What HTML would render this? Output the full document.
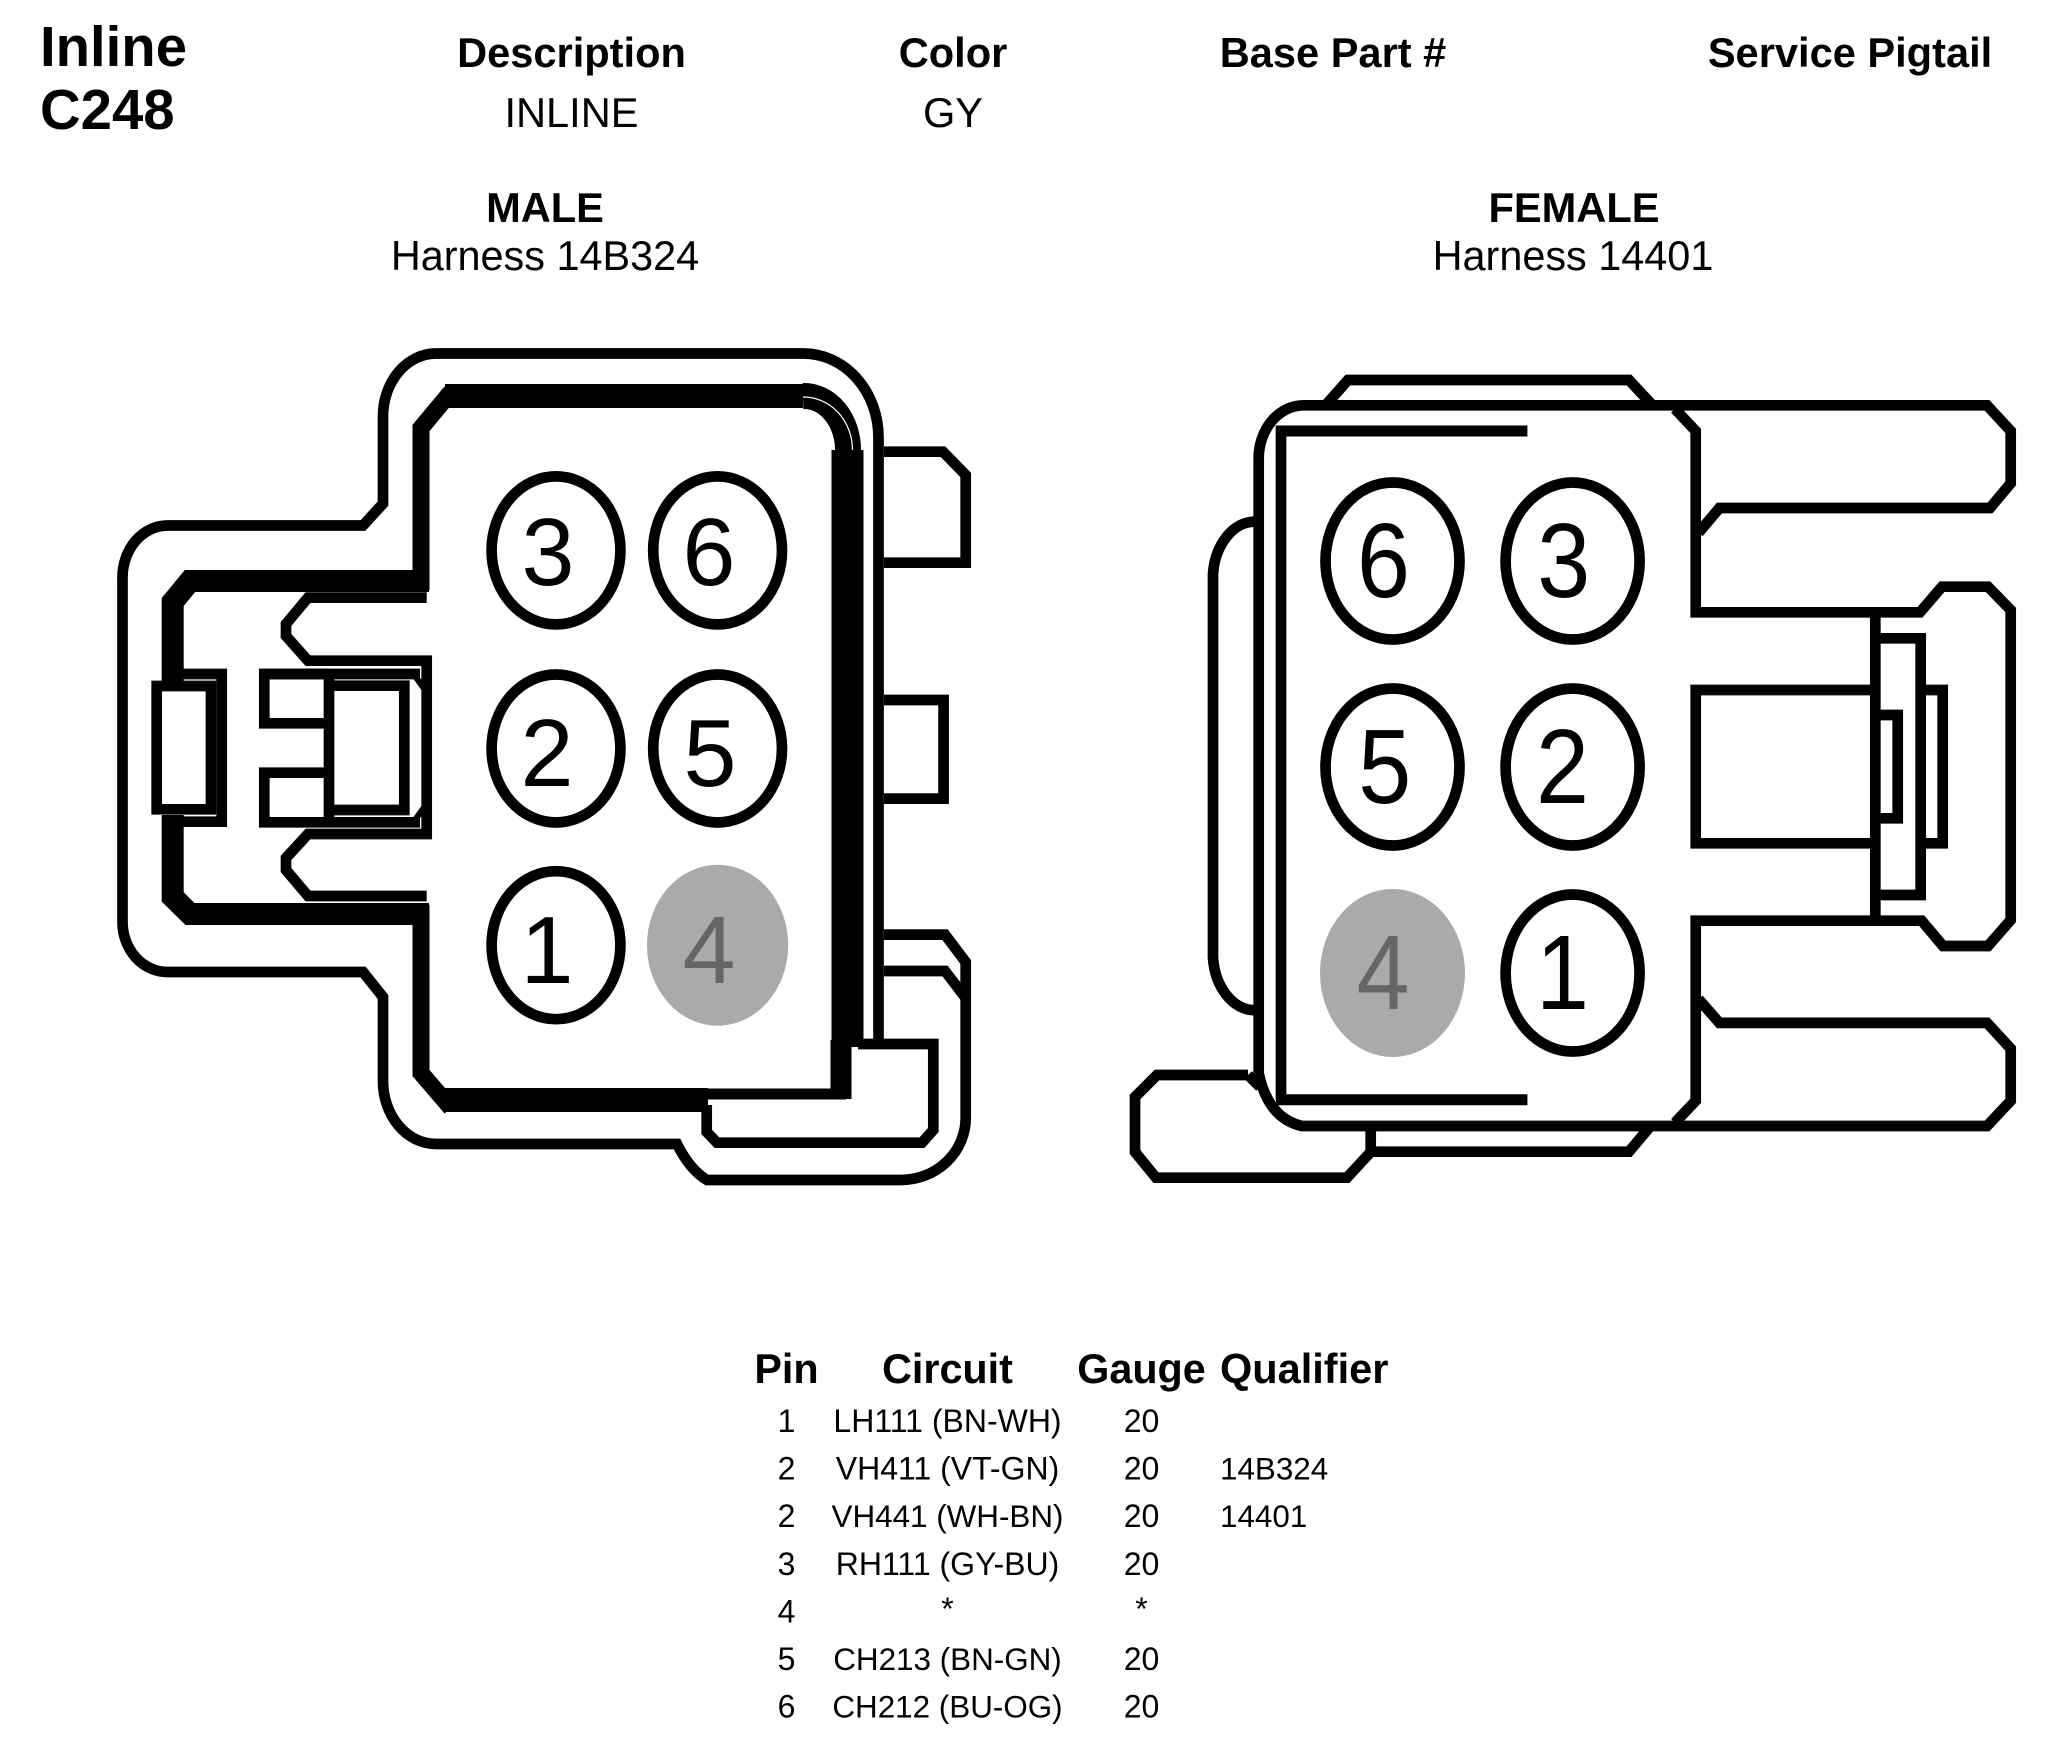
<!DOCTYPE html>
<html><head><meta charset="utf-8"><style>
html,body{margin:0;padding:0;background:#fff}
svg{display:block}
text{font-family:"Liberation Sans",Arial,sans-serif;fill:#000}
.b{font-weight:bold}
.h{font-size:41.6px;font-weight:bold;text-anchor:middle}
.r{font-size:41.6px;text-anchor:middle}
.t{font-size:32px;text-anchor:middle}
.q{font-size:31.4px}
.s path,.s ellipse{fill:none;stroke:#000;stroke-width:10.7;stroke-linejoin:miter}
.d{text-anchor:middle}
</style></head><body>
<svg xmlns="http://www.w3.org/2000/svg" width="2068" height="1756" viewBox="0 0 2068 1756">
<rect width="2068" height="1756" fill="#fff"/>
<text x="40" y="66" class="b" font-size="56.3">Inline</text>
<text x="40" y="129" class="b" font-size="56.3">C248</text>
<text x="571.5" y="67" class="h">Description</text>
<text x="953" y="67" class="h">Color</text>
<text x="1333" y="67" class="h">Base Part #</text>
<text x="1850" y="67" class="h">Service Pigtail</text>
<text x="571.5" y="127" class="r">INLINE</text>
<text x="953" y="127" class="r">GY</text>
<text x="545" y="222" class="h">MALE</text>
<text x="545" y="270" class="r" style="font-size:41.4px">Harness 14B324</text>
<text x="1574" y="222" class="h">FEMALE</text>
<text x="1573" y="270" class="r" style="font-size:41.4px">Harness 14401</text>

<g class="s">
<!-- MALE connector -->
<path d="M884 934.6H945L965.7 962V1118A65 62 0 0 1 900.7 1180H707Q690 1170 677 1144H436A53 63 0 0 1 383 1081V997L363 972H167A45 50 0 0 1 122.5 922.6V578A45 52 0 0 1 167 525.5H363L383 503.6V416.7A53 63 0 0 1 436 353.5H803A75 84 0 0 1 878.5 438V1040"/>
<path d="M884 451.7H943L965.7 475V562.7H884"/>
<path d="M884 700H943.6V798.6H884"/>
<path d="M884 971H945L965 997"/>
<path d="M858 1044H933.3V1130L922 1142.7H717L706.7 1132V1105"/>
<path d="M445 396H803" style="stroke-width:24"/>
<path d="M803 396A44 54 0 0 1 848 450" style="stroke-width:26"/>
<path d="M803 397A49 53 0 0 1 852.5 450" style="stroke:#fff;stroke-width:1.2"/>
<path d="M847.5 450V1047" style="stroke-width:32"/>
<path d="M841 1040V1099" style="stroke-width:21"/>
<path d="M445 1100H708" style="stroke-width:24"/>
<path d="M700 1094H846" style="stroke-width:11"/>
<path d="M451 392L421 428V590" style="stroke-width:17"/>
<path d="M421 905V1073L451 1108" style="stroke-width:17"/>
<path d="M429 581H190L172.7 602V681" style="stroke-width:22"/>
<path d="M172.7 815V897L190 914H429" style="stroke-width:22"/>
<path d="M156.7 686H211V809.3H156.7Z"/>
<path d="M178 674H221.7V821.7H178"/>
<path d="M426.7 597.6H308L286 624V636L308 660.7H426.7V834H308L286 858V870L308 896H426.7"/>
<path d="M329 674H264.3V723.3H329"/>
<path d="M329 772.7H264.3V822.3H420"/>
<path d="M264.3 674H420"/>
<path d="M329 670V826"/>
<path d="M329 685.7H404.3V810H329"/>
<path d="M415 676L425 690M415 820L425 806" style="stroke-width:6"/>
<ellipse cx="556" cy="550.4" rx="64.4" ry="74"/>
<ellipse cx="717.6" cy="550.4" rx="64.4" ry="74"/>
<ellipse cx="556" cy="748.5" rx="64.4" ry="74"/>
<ellipse cx="717.6" cy="748.5" rx="64.4" ry="74"/>
<ellipse cx="556" cy="945.2" rx="64.4" ry="74"/>
<ellipse cx="717.6" cy="945.2" rx="70.6" ry="80.5" style="fill:#aaa;stroke:none"/>

<!-- FEMALE connector -->
<path d="M1698.6 532.7L1719.4 508H1990L2010.7 483.3V431L1987 405.3H1303.3A45 53 0 0 0 1258.7 458.6V1073.3Q1268 1118 1301.7 1126H1987L2010.7 1100.8V1048.6L1987 1022.9H1719.4L1698.6 999.2"/>
<path d="M1675 409L1695.7 431V612.3H1920L1942 586.7H1988L2010.7 610V920L1988 946H1943L1921.7 920.7H1695.7V1100.8L1675 1122.7"/>
<path d="M1281 425.6V1100"/>
<path d="M1276 431H1527.4M1276 1099.7H1527.4" style="stroke-width:11"/>
<path d="M1327 403.7L1348 380H1629L1651 403.7"/>
<path d="M1370.7 1151.7H1629L1651 1125.5"/>
<path d="M1254.5 521.7A42 58 0 0 0 1213 573.8V958A42 58 0 0 0 1254.5 1010.2"/>
<path d="M1248 1075H1157L1135 1097V1152L1156 1177.7H1347L1370.7 1152V1126"/>
<path d="M1248 1075L1260 1087"/>
<path d="M1875.3 690H1695.7V843.3H1875.3"/>
<path d="M1875.3 612V920.7"/>
<path d="M1880 638.3H1920.7V895H1880"/>
<path d="M1880 715H1897.7V818.3H1880"/>
<path d="M1925 690H1942.7V843.3H1925"/>
<ellipse cx="1392.5" cy="561" rx="67" ry="78.5"/>
<ellipse cx="1572.6" cy="561" rx="67" ry="78.5"/>
<ellipse cx="1392.5" cy="767" rx="67" ry="78.5"/>
<ellipse cx="1572.6" cy="767" rx="67" ry="78.5"/>
<ellipse cx="1392.5" cy="973" rx="72.5" ry="84" style="fill:#aaa;stroke:none"/>
<ellipse cx="1572.6" cy="973" rx="67" ry="78.5"/>
</g>

<g font-size="96">
<text x="548" y="585" class="d" textLength="53" lengthAdjust="spacingAndGlyphs">3</text>
<text x="709" y="585" class="d" textLength="53" lengthAdjust="spacingAndGlyphs">6</text>
<text x="547" y="786" class="d" textLength="53" lengthAdjust="spacingAndGlyphs">2</text>
<text x="710" y="786" class="d" textLength="53" lengthAdjust="spacingAndGlyphs">5</text>
<text x="547" y="983" class="d" textLength="53" lengthAdjust="spacingAndGlyphs">1</text>
<text x="709" y="983" class="d" textLength="53" lengthAdjust="spacingAndGlyphs" style="fill:#666">4</text>
</g>
<g font-size="106">
<text x="1383.5" y="597" class="d" textLength="53" lengthAdjust="spacingAndGlyphs">6</text>
<text x="1563.7" y="597" class="d" textLength="53" lengthAdjust="spacingAndGlyphs">3</text>
<text x="1384.7" y="803" class="d" textLength="53" lengthAdjust="spacingAndGlyphs">5</text>
<text x="1562.5" y="803" class="d" textLength="53" lengthAdjust="spacingAndGlyphs">2</text>
<text x="1383" y="1009" class="d" textLength="53" lengthAdjust="spacingAndGlyphs" style="fill:#666">4</text>
<text x="1562.5" y="1009" class="d" textLength="53" lengthAdjust="spacingAndGlyphs">1</text>
</g>

<text x="786.5" y="1383" class="h" style="font-size:41.3px">Pin</text>
<text x="947.5" y="1383" class="h" style="font-size:41.3px">Circuit</text>
<text x="1141.5" y="1383" class="h" style="font-size:41.3px">Gauge</text>
<text x="1220" y="1383" class="b" font-size="41.5">Qualifier</text>

<text x="786.5" y="1432" class="t">1</text><text x="947.5" y="1432" class="t">LH111 (BN-WH)</text><text x="1141.5" y="1432" class="t">20</text>
<text x="786.5" y="1479.5" class="t">2</text><text x="947.5" y="1479.5" class="t">VH411 (VT-GN)</text><text x="1141.5" y="1479.5" class="t">20</text><text x="1220" y="1479.5" class="q">14B324</text>
<text x="786.5" y="1527" class="t">2</text><text x="947.5" y="1527" class="t" style="font-size:31.4px">VH441 (WH-BN)</text><text x="1141.5" y="1527" class="t">20</text><text x="1220" y="1527" class="q">14401</text>
<text x="786.5" y="1575" class="t">3</text><text x="947.5" y="1575" class="t">RH111 (GY-BU)</text><text x="1141.5" y="1575" class="t">20</text>
<text x="786.5" y="1622.5" class="t">4</text><text x="947.5" y="1620" class="t">*</text><text x="1141.5" y="1620" class="t">*</text>
<text x="786.5" y="1670" class="t">5</text><text x="947.5" y="1670" class="t" style="font-size:31.4px">CH213 (BN-GN)</text><text x="1141.5" y="1670" class="t">20</text>
<text x="786.5" y="1717.5" class="t">6</text><text x="947.5" y="1717.5" class="t" style="font-size:31.4px">CH212 (BU-OG)</text><text x="1141.5" y="1717.5" class="t">20</text>
</svg>
</body></html>
